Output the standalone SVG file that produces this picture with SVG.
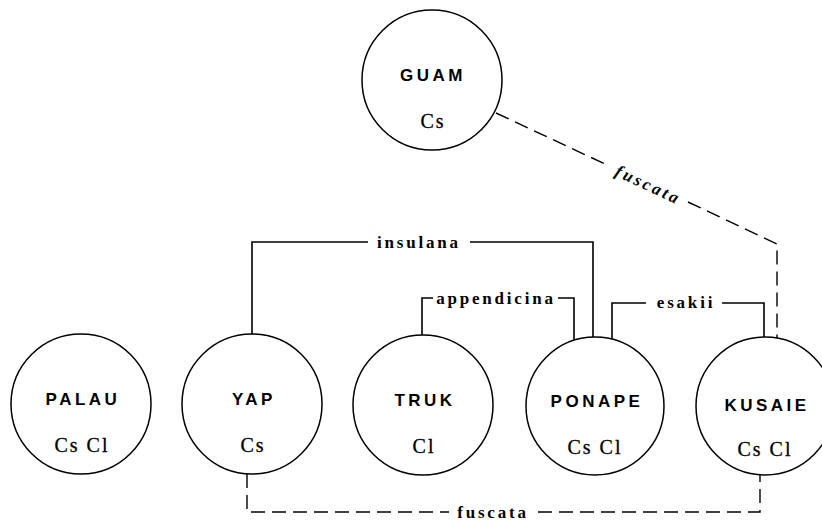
<svg xmlns="http://www.w3.org/2000/svg" width="822" height="529" viewBox="0 0 822 529">
<style>
.node circle{fill:#fff;stroke:#000;stroke-width:1.5}
.name{font-family:"Liberation Sans",Arial,sans-serif;font-weight:bold;font-size:17px;letter-spacing:3.5px;text-anchor:middle}
.sp{font-family:"Liberation Serif","Times New Roman",serif;font-size:20px;letter-spacing:2px;text-anchor:middle;stroke:#000;stroke-width:0.3}
.lbl{font-family:"Liberation Serif","Times New Roman",serif;font-weight:bold;font-size:17px;letter-spacing:2.8px}
.solid{fill:none;stroke:#000;stroke-width:1.6}
.dash{fill:none;stroke:#000;stroke-width:1.4;stroke-dasharray:14 7}
</style>
<rect width="822" height="529" fill="#fff"/>
<g id="connectors">
<polyline class="solid" points="252,334 252,242 368,242"/>
<polyline class="solid" points="470,242 593,242 593,337"/>
<polyline class="solid" points="422,336 422,298 433,298"/>
<polyline class="solid" points="558,298 574,298 574,340"/>
<polyline class="solid" points="612,339 612,303 646,303"/>
<polyline class="solid" points="722,303 764,303 764,337"/>
<line class="dash" x1="496" y1="113" x2="605" y2="164"/>
<polyline class="dash" points="688,202 777,244 777,338"/>
<polyline class="dash" points="247,474 247,512 449,512"/>
<polyline class="dash" points="538,512 760,512 760,475"/>
<text class="lbl" x="419" y="248" text-anchor="middle">insulana</text>
<text class="lbl" x="496" y="304" text-anchor="middle">appendicina</text>
<text class="lbl" x="686" y="308" text-anchor="middle">esakii</text>
<text class="lbl" x="493" y="518" text-anchor="middle">fuscata</text>
<text class="lbl" x="646" y="190" text-anchor="middle" font-style="italic" transform="rotate(25 646 190)">fuscata</text>
</g>
<g id="guam" class="node"><circle cx="432" cy="80" r="70"/><text class="name" x="433" y="81">GUAM</text><text class="sp" x="433" y="128">Cs</text></g>
<g id="palau" class="node"><circle cx="81" cy="404" r="70"/><text class="name" x="83" y="405">PALAU</text><text class="sp" x="82" y="452">Cs Cl</text></g>
<g id="yap" class="node"><circle cx="252" cy="404" r="70"/><text class="name" x="254" y="405">YAP</text><text class="sp" x="253" y="452">Cs</text></g>
<g id="truk" class="node"><circle cx="423" cy="405" r="70"/><text class="name" x="425" y="406">TRUK</text><text class="sp" x="424" y="453">Cl</text></g>
<g id="ponape" class="node"><circle cx="595" cy="406" r="69"/><text class="name" x="597" y="407">PONAPE</text><text class="sp" x="595" y="454">Cs Cl</text></g>
<g id="kusaie" class="node"><circle cx="765" cy="406" r="69"/><text class="name" x="767" y="411">KUSAIE</text><text class="sp" x="765" y="456">Cs Cl</text></g>
</svg>
